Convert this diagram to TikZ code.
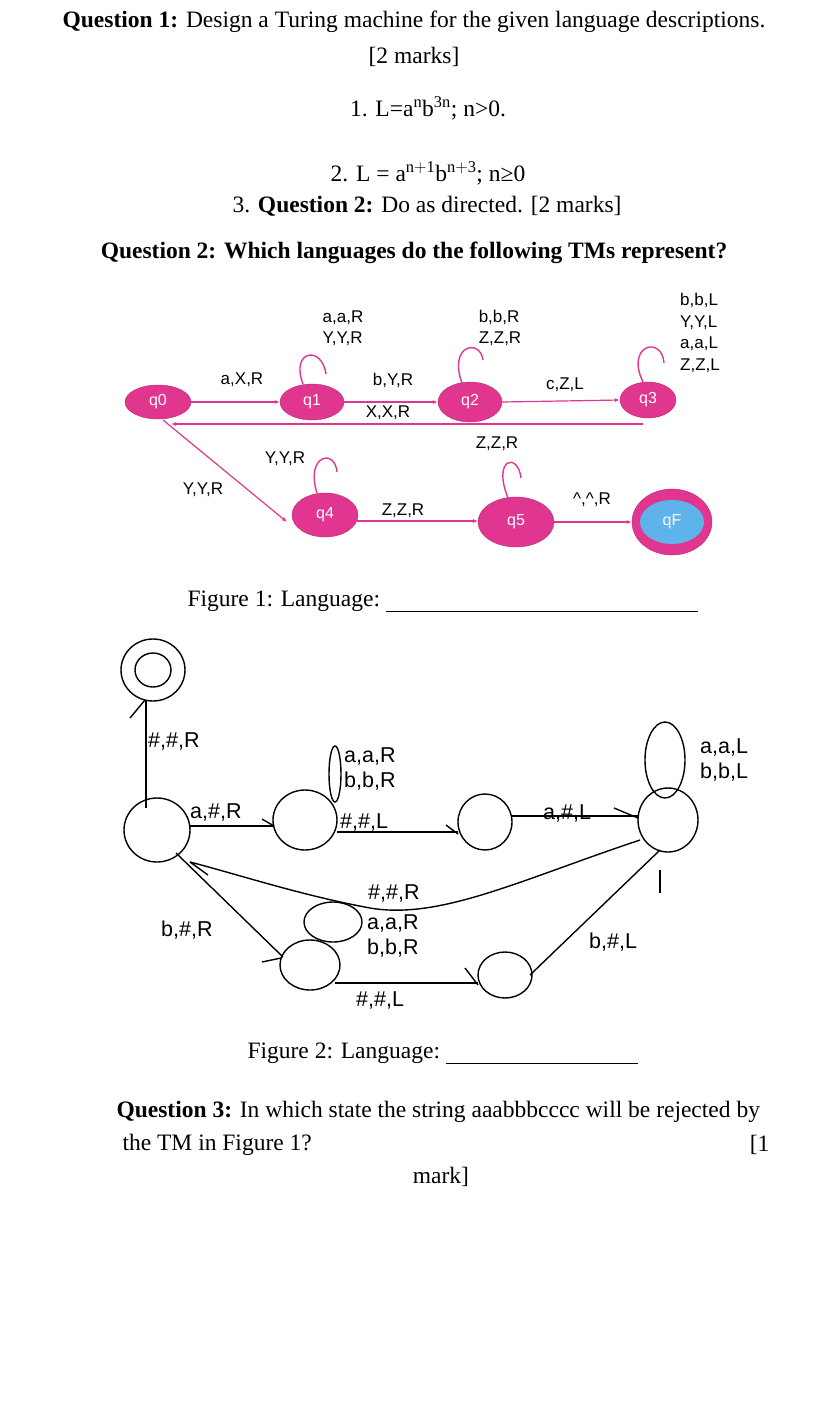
\documentclass[tikz,border=0pt]{standalone}
\usepackage{fontspec}
\setmainfont{Liberation Serif}
\newfontfamily\lab{Liberation Sans}
\definecolor{mag}{HTML}{E0368F}
\definecolor{qblue}{HTML}{5DB3EA}
\begin{document}
\begin{tikzpicture}[x=1pt,y=-1pt,
  body/.style={font=\fontsize{23.5}{27}\selectfont},
  st/.style={ellipse,fill=mag,draw=mag!80!black,text=white,font=\lab\fontsize{16}{18}\selectfont},
  l1/.style={font=\lab\fontsize{17}{21.5}\selectfont,align=left,inner sep=0pt},
  e1/.style={mag,line width=1.2pt,-{Latex[length=5pt,width=4pt]}},
  lp/.style={mag,line width=1.4pt},
  c2/.style={draw,ellipse,line width=1.4pt},
  l2/.style={font=\lab\fontsize{21.5}{25}\selectfont,align=left,inner sep=0pt,anchor=west},
  w/.style={line width=1.4pt}]
\usetikzlibrary{shapes.geometric,arrows.meta}
\useasboundingbox (0,0) rectangle (828,1401);
% texts
\node[body] (t1) at (414,22) {\textbf{Question 1:} Design a Turing machine for the given language descriptions.};
\node[body] (t2) at (414,57) {[2 marks]};
\node[body] (t3) at (428,108) {1. L=a$^{\mathrm n}$b$^{\mathrm{3n}}$; n>0.};
\node[body] (t4) at (428,173) {2. L = a$^{\mathrm{n+1}}$b$^{\mathrm{n+3}}$; n≥0};
\node[body] (t5) at (427,206) {3. \textbf{Question 2:} Do as directed. [2 marks]};
\node[body] (t6) at (414,253) {\textbf{Question 2: Which languages do the following TMs represent?}};
% figure 1
\node[st,minimum width=66pt,minimum height=34pt] (q0) at (158,402) {q0};
\node[st,minimum width=64pt,minimum height=36pt] (q1) at (312,402) {q1};
\node[st,minimum width=64pt,minimum height=40pt] (q2) at (470,402) {q2};
\node[st,minimum width=56pt,minimum height=36pt] (q3) at (648,400) {q3};
\node[st,minimum width=66pt,minimum height=44pt] (q4) at (325,515) {q4};
\node[st,minimum width=76pt,minimum height=50pt] (q5) at (516,522) {q5};
\node[st,minimum width=80pt,minimum height=66pt] (qFo) at (672,522) {};
\node[ellipse,fill=qblue,text=white,minimum width=64pt,minimum height=44pt,font=\lab\fontsize{16}{18}\selectfont] (qF) at (672,522) {qF};
\draw[e1] (q0) -- (q1);
\draw[e1] (q1) -- (q2);
\draw[e1] (q2.east) -- (q3.west);
\coordinate (b3) at (643,424);
\coordinate (b0) at (171,424);
\draw[e1] (b3) -- (b0);
\coordinate (d0) at (163,420);
\coordinate (d4) at (287,522);
\draw[e1] (d0) -- (d4);
\coordinate (h4) at (357,521);
\coordinate (h5) at (478,521);
\draw[e1] (h4) -- (h5);
\draw[e1] (q5.east) -- (qFo.west);
\draw[lp] (303,384) .. controls (290,350) and (322,345) .. (326,374);
\draw[lp] (462,383) .. controls (448,345) and (480,338) .. (483,360);
\draw[lp] (643,382) .. controls (625,345) and (662,335) .. (664,363);
\draw[lp] (317,493) .. controls (305,455) and (335,448) .. (337,472);
\draw[lp] (508,498) .. controls (492,458) and (518,452) .. (521,478);
\node[l1] (la) at (242,380) {a,X,R};
\node[l1] (lb) at (393,380) {b,Y,R};
\node[l1] (lx) at (388,413) {X,X,R};
\node[l1] (lc) at (565,385) {c,Z,L};
\node[l1] (ll1) at (343,328) {a,a,R\\Y,Y,R};
\node[l1] (ll2) at (500,328) {b,b,R\\Z,Z,R};
\node[l1] (ll3) at (700,333) {b,b,L\\Y,Y,L\\a,a,L\\Z,Z,L};
\node[l1] (ll4) at (285,459) {Y,Y,R};
\node[l1] (ly) at (203,490) {Y,Y,R};
\node[l1] (ll5) at (497,444) {Z,Z,R};
\node[l1] (lz) at (403,511) {Z,Z,R};
\node[l1] (lh) at (592,500) {\^{},\^{},R};
\node[body,anchor=west] (f1) at (184,601) {Figure 1: Language:};
\coordinate (u1a) at (386,611); \coordinate (u1b) at (698,611);
\draw[line width=0.8pt] (u1a) -- (u1b);
% figure 2
\node[c2,minimum width=64pt,minimum height=62pt] (acc) at (153,670) {};
\node[c2,minimum width=36pt,minimum height=34pt] (acci) at (153,670) {};
\node[c2,minimum width=66pt,minimum height=64pt] (s0) at (157,830) {};
\node[c2,minimum width=64pt,minimum height=60pt] (s1) at (305,820) {};
\node[c2,minimum width=54pt,minimum height=56pt] (s2) at (485,822) {};
\node[c2,minimum width=60pt,minimum height=64pt] (s3) at (668,820) {};
\node[c2,minimum width=60pt,minimum height=50pt] (s4) at (310,965) {};
\node[c2,minimum width=54pt,minimum height=46pt] (s5) at (505,975) {};
\node[c2,minimum width=12pt,minimum height=56pt] (lo1) at (335,774) {};
\node[c2,minimum width=40pt,minimum height=76pt] (lo3) at (665,760) {};
\node[c2,minimum width=58pt,minimum height=40pt] (lo4) at (333,922) {};
\coordinate (v0) at (146,808); \coordinate (v1) at (146,700);
\draw[w] (v0) -- (v1);
\draw[w] (130,718) -- (145,700);
\coordinate (e0) at (189,826); \coordinate (e1) at (274,826);
\draw[w] (e0) -- (e1);
\draw[w] (262,819) -- (274,826);
\coordinate (e2) at (337,832); \coordinate (e3) at (458,832);
\draw[w] (e2) -- (e3);
\draw[w] (446,825) -- (458,834);
\coordinate (e4) at (512,816); \coordinate (e5) at (639,816);
\draw[w] (e4) -- (e5);
\draw[w] (614,808) -- (638,818);
\draw[w] (640,840) .. controls (520,880) and (440,920) .. (370,908) .. controls (300,895) and (240,875) .. (190,862);
\draw[w] (190,862) -- (208,875);
\draw[w] (176,853) -- (283,957);
\draw[w] (262,962) -- (281,958);
\draw[w] (335,983) -- (478,983);
\draw[w] (465,968) -- (478,985);
\draw[w] (530,975) -- (660,850);
\draw[w] (660,870) -- (660,893);
\node[l2] (m1) at (148,741) {\#,\#,R};
\node[l2] (m2) at (190,812) {a,\#,R};
\node[l2] (m3) at (344,769) {a,a,R\\b,b,R};
\node[l2] (m4) at (340,822) {\#,\#,L};
\node[l2] (m5) at (543,813) {a,\#,L};
\node[l2] (m6) at (700,760) {a,a,L\\b,b,L};
\node[l2] (m7) at (368,893) {\#,\#,R};
\node[l2] (m8) at (367,936) {a,a,R\\b,b,R};
\node[l2] (m9) at (161,930) {b,\#,R};
\node[l2] (m10) at (589,942) {b,\#,L};
\node[l2] (m11) at (356,1000) {\#,\#,L};
\node[body,anchor=west] (f2) at (244,1053) {Figure 2: Language:};
\coordinate (u2a) at (446,1063); \coordinate (u2b) at (638,1063);
\draw[line width=0.8pt] (u2a) -- (u2b);
% question 3
\node[body,anchor=west] (q3a) at (113,1112) {\textbf{Question 3:} In which state the string aaabbbcccc will be rejected by};
\node[body,anchor=west] (q3b) at (119,1145) {the TM in Figure 1?};
\node[body,anchor=east] (q3c) at (773,1145) {[1};
\node[body] (q3d) at (441,1177) {mark]};
\end{tikzpicture}
\end{document}
